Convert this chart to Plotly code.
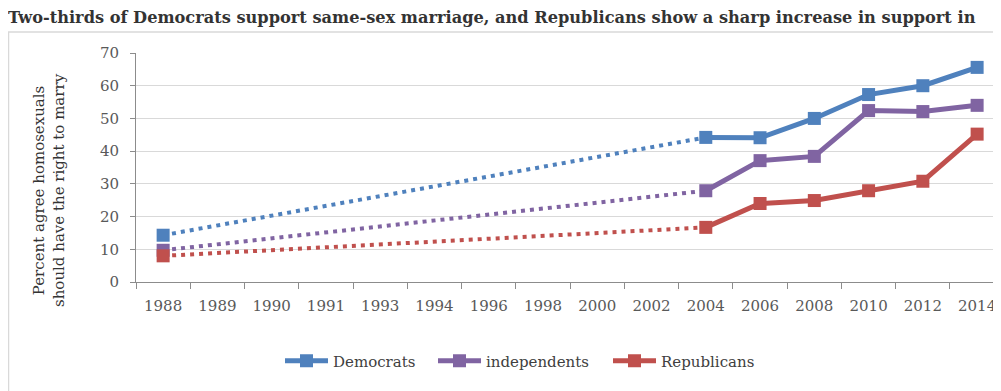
import plotly.graph_objects as go

categories = ['1988', '1989', '1990', '1991', '1993', '1994', '1996', '1998',
              '2000', '2002', '2004', '2006', '2008', '2010', '2012', '2014']
democrats = [14.3, None, None, None, None, None, None, None, None, None,
             44.2, 44.1, 50.0, 57.3, 60.0, 65.6]
independents = [9.7, None, None, None, None, None, None, None, None, None,
                27.9, 37.1, 38.4, 52.4, 52.1, 54.0]
republicans = [8.0, None, None, None, None, None, None, None, None, None,
               16.7, 24.0, 24.9, 27.9, 30.8, 45.2]
series_names = ['Democrats', 'independents', 'Republicans']
series_values = [democrats, independents, republicans]
series_colors = ['#4F81BD', '#8064A2', '#C0504D']
title_text = ('Two-thirds of Democrats support same-sex marriage, and Republicans '
              'show a sharp increase in support in')
y_title = 'Percent agree homosexuals<br>should have the right to marry'

FONT = 'DejaVu Serif'
OFF = 8                      # page offset of the figure (body margin)
W, H = 1001 - OFF, 391 - OFF
L = 136 - OFF
T = 53 - OFF
B = H - (282 - OFF)
R = 0
plot_w = W - L - R
plot_h = H - T - B

legend_ids = ['legend', 'legend2', 'legend3']
legend_left_page = [280, 433, 608]

fig = go.Figure()
for name, vals, color, lid in zip(series_names, series_values, series_colors, legend_ids):
    known = [(c, v) for c, v in zip(categories, vals) if v is not None]
    fig.add_trace(go.Scatter(
        x=[known[0][0], known[1][0]], y=[known[0][1], known[1][1]],
        mode='lines', line=dict(color=color, width=4, dash='4px,5px'),
        showlegend=False, hoverinfo='skip'))
    fig.add_trace(go.Scatter(
        x=[known[0][0]], y=[known[0][1]], mode='markers',
        marker=dict(symbol='square', size=13, color=color),
        showlegend=False))
    fig.add_trace(go.Scatter(
        x=[c for c, _ in known[1:]], y=[v for _, v in known[1:]],
        mode='lines+markers', name=name, legend=lid,
        line=dict(color=color, width=5),
        marker=dict(symbol='square', size=13, color=color)))

legend_common = dict(orientation='h', xref='container', yref='container',
                     xanchor='left', y=1 - (361 - OFF) / H, yanchor='middle',
                     itemwidth=43,
                     font=dict(family=FONT, size=15, color='#404040'),
                     bgcolor='rgba(0,0,0,0)')
legends = {}
for lid, px in zip(legend_ids, legend_left_page):
    legends[lid] = dict(legend_common, x=(px - OFF) / W)

fig.update_layout(
    width=W, height=H,
    margin=dict(l=L, r=R, t=T, b=B),
    paper_bgcolor='white', plot_bgcolor='white',
    font=dict(family=FONT, color='#595959'),
    title=dict(text='<b>' + title_text + '</b>', x=0, xanchor='left',
               y=1 - 9.5 / H, yanchor='middle', xref='container', yref='container',
               pad=dict(t=0, l=0),
               font=dict(family=FONT, size=16.2, color='#333333')),
    xaxis=dict(type='category', categoryorder='array', categoryarray=categories,
               range=[-0.5, 15.44], showgrid=False, showline=True,
               linecolor='#8c8c8c', linewidth=1, ticks='outside', tickson='boundaries',
               ticklen=6, tickcolor='#8c8c8c', ticklabelstandoff=10,
               tickfont=dict(family=FONT, size=15, color='#595959')),
    yaxis=dict(range=[0, 70], dtick=10, showgrid=True, gridcolor='#d9d9d9',
               gridwidth=1, showline=True, linecolor='#8c8c8c', linewidth=1,
               ticks='outside', ticklen=5, tickcolor='#8c8c8c', zeroline=False,
               ticklabelstandoff=8,
               tickfont=dict(family=FONT, size=15, color='#595959')),
    showlegend=True,
    **legends,
)

fig.add_annotation(text=y_title, textangle=-90, showarrow=False,
                   xref='paper', yref='paper',
                   x=(49 - OFF - L) / plot_w, y=(T + plot_h - (190 - OFF)) / plot_h,
                   xanchor='center', yanchor='middle',
                   font=dict(family=FONT, size=15, color='#333333'))

# outer chart border (light frame)
x0 = (0.5 - L) / plot_w
x1 = (W + 10 - L) / plot_w
y0 = (T + plot_h - 420) / plot_h
y1 = (T + plot_h - (32 - OFF)) / plot_h
fig.add_shape(type='rect', xref='paper', yref='paper', x0=x0, x1=x1, y0=y0, y1=y1,
              line=dict(color='#d9d9d9', width=1.5), layer='below')

fig.write_html('out.html')
